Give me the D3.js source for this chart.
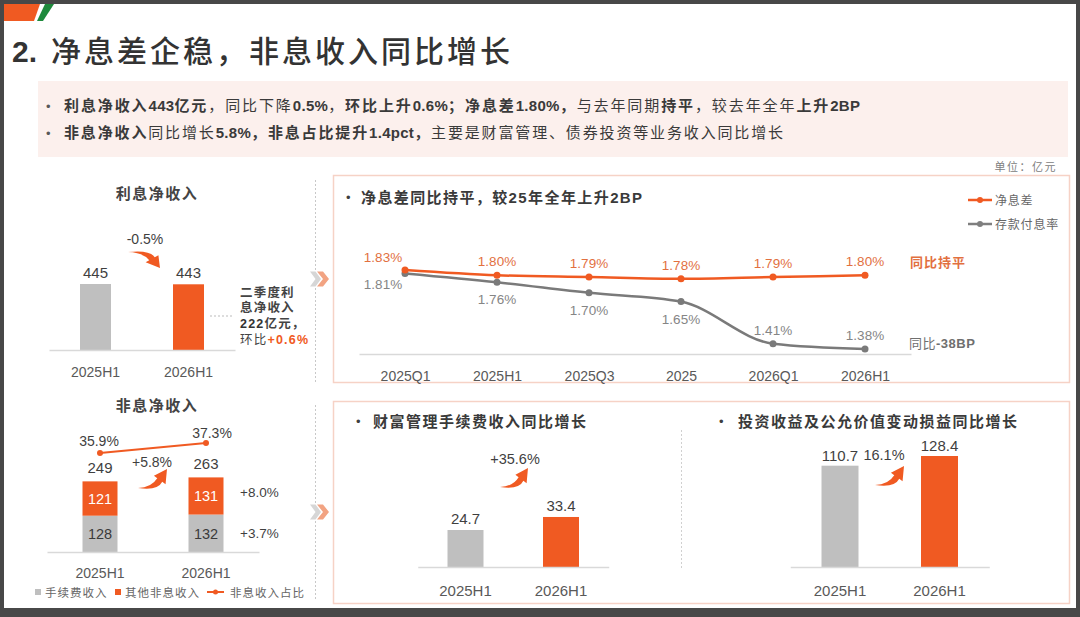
<!DOCTYPE html>
<html><head><meta charset="utf-8">
<script src="https://cdn.jsdelivr.net/npm/d3@7"></script>
<style>body{margin:0;background:#484848;} svg{display:block}</style>
</head><body><svg id="c" width="1080" height="617"></svg>
<script>
// ---------- DATA ----------
const halfCategories = ["2025H1", "2026H1"];
const niiValues = [445, 443];
const niiChangeLabel = "-0.5%";

const feeValues = [128, 132];
const otherValues = [121, 131];
const nonIntTotals = [249, 263];
const nonIntRatio = [35.9, 37.3];
const nonIntChangeLabel = "+5.8%";
const otherGrowthLabel = "+8.0%";
const feeGrowthLabel = "+3.7%";

const nimCategories = ["2025Q1", "2025H1", "2025Q3", "2025", "2026Q1", "2026H1"];
const nimValues = [1.83, 1.80, 1.79, 1.78, 1.79, 1.80];
const depositRateValues = [1.81, 1.76, 1.70, 1.65, 1.41, 1.38];

const wealthValues = [24.7, 33.4];
const wealthChangeLabel = "+35.6%";
const investValues = [110.7, 128.4];
const investChangeLabel = "16.1%";

// ---------- STYLE ----------
const FONT = "'Liberation Sans','Noto Sans CJK SC',sans-serif";
const ORANGE = "#f05a22", ORANGE_TXT = "#e2703f", GRAYBAR = "#bfbfbf", DARK = "#3f3f3f", MID = "#595959", LGRAY = "#808080";
const BOXSTROKE = "#f6d2c6";

const svg = d3.select("#c");

function rich(g, x, y, parts, o) {
  const t = g.append("text").attr("x", x).attr("y", y)
    .attr("font-family", FONT).attr("font-size", o.size)
    .attr("fill", o.fill || DARK).attr("letter-spacing", o.ls || 0)
    .attr("text-anchor", o.anchor || "start")
    .attr("font-weight", o.weight || 400);
  parts.forEach(p => {
    const s = t.append("tspan").text(p[0]);
    if (p[1]) s.attr("font-weight", p[1]);
    if (p[2]) s.attr("fill", p[2]);
    if (p[3] !== undefined) s.attr("letter-spacing", p[3]);
  });
  return t;
}
function label(g, x, y, txt, o) { return rich(g, x, y, [[txt]], Object.assign({anchor: "middle"}, o)); }

const SWOOSH = "M0,19 Q13,18.5 18.6,9.2 L15.4,6.8 L28,0 L26.6,15.2 L23.4,12.8 Q19,22 0,19 Z";
function swoosh(g, x0, y0, x1, y1, down) {
  const sx = (x1 - x0) / 28, sy = (y1 - y0) / 19;
  const tr = down ? `translate(${x0},${y1}) scale(${sx},${-sy})` : `translate(${x0},${y0}) scale(${sx},${sy})`;
  g.append("path").attr("d", SWOOSH).attr("transform", tr).attr("fill", ORANGE);
}
function chevrons(g, x, y) {
  const pts = (w, h) => [[0,0],[w*0.5,0],[w,h/2],[w*0.5,h],[0,h],[w*0.5,h/2]].map(p => p.join(",")).join(" ");
  g.append("polygon").attr("points", pts(11, 15)).attr("transform", `translate(${x - 10},${y - 7.5})`).attr("fill", "#d6d6d6");
  g.append("polygon").attr("points", pts(12, 15)).attr("transform", `translate(${x - 3},${y - 7.5})`).attr("fill", "#f2a382");
}
function bandFor(cats, c0, c1, w) {
  const step = c1 - c0, pi = 1 - w / step;
  return d3.scaleBand().domain(cats).range([c0 - step / 2, c1 + step / 2]).paddingInner(pi).paddingOuter(pi / 2);
}
function baseAxis(g, x, y, labelDy) {
  const ax = g.append("g").attr("transform", `translate(0,${y})`)
    .call(d3.axisBottom(x).tickSize(0).tickSizeOuter(0).tickPadding(labelDy));
  ax.select(".domain").attr("stroke", "#d9d9d9").attr("stroke-width", 1.5);
  ax.selectAll("text").attr("font-family", FONT).attr("font-size", 14).attr("fill", MID);
  return ax;
}

// ---------- SLIDE FRAME ----------
svg.append("rect").attr("x", 4).attr("y", 4).attr("width", 1072).attr("height", 604).attr("fill", "#ffffff");
svg.append("polygon").attr("points", "4,4 40,4 34,21 4,21").attr("fill", ORANGE);
svg.append("polygon").attr("points", "45,4 54,4 43,21 37,21").attr("fill", "#1e8a3c");

// title
rich(svg, 12, 62, [["2.", 700]], {size: 30, fill: "#333"});
rich(svg, 51, 62, [["净息差企稳，非息收入同比增长"]], {size: 30, fill: "#333", ls: 3, weight: 500});

// summary box
svg.append("rect").attr("x", 38).attr("y", 81).attr("width", 1030).attr("height", 76).attr("fill", "#fcf0ed");
const sum = svg.append("g");
rich(sum, 46, 111, [["•"]], {size: 13, fill: MID});
rich(sum, 46, 138, [["•"]], {size: 13, fill: MID});
rich(sum, 64, 111, [
  ["利息净收入", 700], ["443", 700, null, 0.3], ["亿元", 700], ["，同比下降"], ["0.5%", 700, null, 0.3], ["，"], ["环比上升", 700], ["0.6%", 700, null, 0.3], ["；净息差", 700], ["1.80%", 700, null, 0.3], ["，", 700],
  ["与去年同期"], ["持平", 700], ["，较去年全年"], ["上升", 700], ["2BP", 700, null, 0.3]
], {size: 15, fill: "#3a3a3a", ls: 1.9});
rich(sum, 64, 138, [
  ["非息净收入", 700], ["同比增长"], ["5.8%", 700, null, 0.3], ["，非息占比提升", 700], ["1.4pct", 700, null, 0.3], ["，", 700], ["主要是财富管理、债券投资等业务收入同比增长"]
], {size: 15, fill: "#3a3a3a", ls: 1.85});
rich(svg, 1057, 171, [["单位：亿元"]], {size: 11, fill: LGRAY, ls: 1.5, anchor: "end"});

// separators & chevrons
[[180, 382], [405, 600]].forEach(([a, b]) =>
  svg.append("line").attr("x1", 315.5).attr("x2", 315.5).attr("y1", a).attr("y2", b)
    .attr("stroke", "#c8c8c8").attr("stroke-dasharray", "2,2"));
chevrons(svg, 320, 279);
chevrons(svg, 320, 512);

// ---------- TOP-LEFT: 利息净收入 ----------
{
  const g = svg.append("g");
  rich(g, 157, 199, [["利息净收入"]], {size: 15, weight: 700, ls: 1.5, anchor: "middle", fill: "#444"});
  const x = bandFor(halfCategories, 95.5, 188.5, 31);
  const y = d3.scaleLinear().domain([0, 445]).range([350, 284]);
  g.selectAll("rect.b").data(niiValues).join("rect")
    .attr("x", (d, i) => x(halfCategories[i])).attr("width", x.bandwidth())
    .attr("y", d => y(d)).attr("height", d => y(0) - y(d))
    .attr("fill", (d, i) => i ? ORANGE : GRAYBAR);
  niiValues.forEach((v, i) => label(g, x(halfCategories[i]) + x.bandwidth() / 2, y(v) - 6, String(v), {size: 15, fill: DARK}));
  baseAxis(g, x, 350, 17);
  label(g, 145, 244, niiChangeLabel, {size: 14, fill: DARK});
  swoosh(g, 128, 252, 160, 268, true);
  g.append("line").attr("x1", 210).attr("x2", 232).attr("y1", 316).attr("y2", 316).attr("stroke", "#bbb").attr("stroke-dasharray", "2,2");
  const o = {size: 12.5, fill: "#444", ls: 1.2};
  rich(g, 240, 297, [["二季度利", 700]], o);
  rich(g, 240, 312, [["息净收入", 700]], o);
  rich(g, 240, 328, [["222", 700, "#333"], ["亿元，", 700]], o);
  rich(g, 240, 344, [["环比", 400], ["+0.6%", 700, ORANGE]], o);
}

// ---------- BOTTOM-LEFT: 非息净收入 ----------
{
  const g = svg.append("g");
  rich(g, 157, 411, [["非息净收入"]], {size: 15, weight: 700, ls: 1.5, anchor: "middle", fill: "#444"});
  const x = bandFor(halfCategories, 100, 206, 35);
  const y = d3.scaleLinear().domain([0, 263]).range([552, 477.4]);
  const stack = halfCategories.map((c, i) => ({c, fee: feeValues[i], other: otherValues[i]}));
  const series = d3.stack().keys(["fee", "other"])(stack);
  g.selectAll("g.s").data(series).join("g").attr("fill", d => d.key === "fee" ? GRAYBAR : ORANGE)
    .selectAll("rect").data(d => d).join("rect")
    .attr("x", d => x(d.data.c)).attr("width", x.bandwidth())
    .attr("y", d => y(d[1])).attr("height", d => y(d[0]) - y(d[1]));
  series.forEach(s => s.forEach(d => {
    label(g, x(d.data.c) + x.bandwidth() / 2, (y(d[0]) + y(d[1])) / 2 + 5.5, String(d[1] - d[0]),
      {size: 14.5, fill: s.key === "fee" ? "#3a3a3a" : "#ffffff"});
  }));
  nonIntTotals.forEach((v, i) => label(g, x(halfCategories[i]) + x.bandwidth() / 2, y(v) - 8, String(v), {size: 15, fill: DARK}));
  baseAxis(g, x, 552, 16);
  // ratio line
  const yr = d3.scaleLinear().domain([30, 40]).range([495.1, 423.7]);
  const cx = i => x(halfCategories[i]) + x.bandwidth() / 2;
  g.append("path").datum(nonIntRatio).attr("fill", "none").attr("stroke", ORANGE).attr("stroke-width", 2)
    .attr("d", d3.line().x((d, i) => cx(i)).y(d => yr(d)));
  g.selectAll("circle.r").data(nonIntRatio).join("circle").attr("cx", (d, i) => cx(i)).attr("cy", d => yr(d)).attr("r", 3).attr("fill", ORANGE);
  label(g, cx(0) - 1, yr(nonIntRatio[0]) - 7, nonIntRatio[0].toFixed(1) + "%", {size: 14, fill: DARK});
  label(g, cx(1) + 6, yr(nonIntRatio[1]) - 5, nonIntRatio[1].toFixed(1) + "%", {size: 14, fill: DARK});
  label(g, 152, 467, nonIntChangeLabel, {size: 14, fill: DARK});
  swoosh(g, 138, 469, 167, 488, false);
  rich(g, 240, 497, [[otherGrowthLabel]], {size: 13.5, fill: DARK});
  rich(g, 240, 538, [[feeGrowthLabel]], {size: 13.5, fill: DARK});
  // legend
  const lo = {size: 11.5, fill: "#666", ls: 1};
  g.append("rect").attr("x", 35).attr("y", 589).attr("width", 6).attr("height", 6).attr("fill", GRAYBAR);
  rich(g, 45, 597, [["手续费收入"]], lo);
  g.append("rect").attr("x", 115).attr("y", 589).attr("width", 6).attr("height", 6).attr("fill", ORANGE);
  rich(g, 125, 597, [["其他非息收入"]], lo);
  g.append("line").attr("x1", 207).attr("x2", 224).attr("y1", 592).attr("y2", 592).attr("stroke", ORANGE).attr("stroke-width", 2);
  g.append("circle").attr("cx", 215.5).attr("cy", 592).attr("r", 2.5).attr("fill", ORANGE);
  rich(g, 230, 597, [["非息收入占比"]], lo);
}

// ---------- TOP-RIGHT: NIM line chart ----------
{
  const g = svg.append("g");
  g.append("rect").attr("x", 333.5).attr("y", 175.5).attr("width", 736).attr("height", 207).attr("fill", "#fff")
    .attr("stroke", BOXSTROKE).attr("stroke-width", 1.5);
  rich(g, 346, 202, [["•"]], {size: 13, fill: DARK});
  rich(g, 361, 203, [["净息差同比持平，较"], ["25"], ["年全年上升"], ["2BP"]], {size: 15, weight: 700, ls: 1.4, fill: "#3a3a3a"});
  // legend
  const lg = [["净息差", ORANGE, 200], ["存款付息率", "#7f7f7f", 224]];
  lg.forEach(([t, c, yy]) => {
    g.append("line").attr("x1", 968).attr("x2", 992).attr("y1", yy).attr("y2", yy).attr("stroke", c).attr("stroke-width", 2.5);
    g.append("circle").attr("cx", 980).attr("cy", yy).attr("r", 3).attr("fill", c);
    rich(g, 995, yy + 4.5, [[t]], {size: 12, fill: "#666", ls: 0.8});
  });
  const x = d3.scalePoint().domain(nimCategories).range([359, 911]).padding(0.5);
  const y = d3.scaleLinear().domain([1.30, 2.00]).range([363.05, 240.13]);
  baseAxis(g, x, 354, 17);
  const line = d3.line().x((d, i) => x(nimCategories[i])).y(d => y(d)).curve(d3.curveMonotoneX);
  g.append("path").datum(depositRateValues).attr("fill", "none").attr("stroke", "#7a7a7a").attr("stroke-width", 2.5).attr("d", line);
  g.append("path").datum(nimValues).attr("fill", "none").attr("stroke", ORANGE).attr("stroke-width", 2.5).attr("d", line);
  g.selectAll("circle.d").data(depositRateValues).join("circle").attr("cx", (d, i) => x(nimCategories[i])).attr("cy", d => y(d)).attr("r", 3.5).attr("fill", "#7a7a7a");
  g.selectAll("circle.n").data(nimValues).join("circle").attr("cx", (d, i) => x(nimCategories[i])).attr("cy", d => y(d)).attr("r", 3.5).attr("fill", ORANGE);
  nimValues.forEach((v, i) => {
    const dx = i === 0 ? -22 : 0;
    label(g, x(nimCategories[i]) + dx, y(v) - (i === 0 ? 8 : 9), v.toFixed(2) + "%", {size: 13.5, fill: ORANGE_TXT});
  });
  depositRateValues.forEach((v, i) => {
    let dx = 0, dy = 22;
    if (i === 0) { dx = -22; dy = 16; }
    if (i >= 4) { dy = -9; }
    label(g, x(nimCategories[i]) + dx, y(v) + dy, v.toFixed(2) + "%", {size: 13.5, fill: "#858585"});
  });
  rich(g, 910, 267, [["同比持平"]], {size: 13, weight: 700, fill: ORANGE_TXT, ls: 1});
  rich(g, 909, 348, [["同比", 400], ["-38BP", 700]], {size: 13, fill: "#6f6f6f", ls: 0.5});
}

// ---------- BOTTOM-RIGHT ----------
{
  const g = svg.append("g");
  g.append("rect").attr("x", 333.5).attr("y", 401.5).attr("width", 736).attr("height", 202).attr("fill", "#fff")
    .attr("stroke", BOXSTROKE).attr("stroke-width", 1.5);
  g.append("line").attr("x1", 681.5).attr("x2", 681.5).attr("y1", 430).attr("y2", 568).attr("stroke", "#d0d0d0").attr("stroke-dasharray", "2,2");
  rich(g, 356, 426, [["•"]], {size: 13, fill: DARK});
  rich(g, 373, 427, [["财富管理手续费收入同比增长"]], {size: 15, weight: 700, ls: 1.5, fill: "#3a3a3a"});
  rich(g, 719, 426, [["•"]], {size: 13, fill: DARK});
  rich(g, 738, 427, [["投资收益及公允价值变动损益同比增长"]], {size: 15, weight: 700, ls: 1.5, fill: "#3a3a3a"});

  // wealth management fees
  const x1 = bandFor(halfCategories, 465.5, 561, 36);
  const y1 = d3.scaleLinear().domain([0, 40]).range([567, 507.1]);
  g.selectAll("rect.w").data(wealthValues).join("rect")
    .attr("x", (d, i) => x1(halfCategories[i])).attr("width", x1.bandwidth())
    .attr("y", d => y1(d)).attr("height", d => y1(0) - y1(d)).attr("fill", (d, i) => i ? ORANGE : GRAYBAR);
  wealthValues.forEach((v, i) => label(g, x1(halfCategories[i]) + x1.bandwidth() / 2, y1(v) - 6, v.toFixed(1), {size: 15, fill: DARK}));
  baseAxis(g, x1, 567, 18).selectAll("text").attr("font-size", 15);
  label(g, 515, 464, wealthChangeLabel, {size: 14.5, fill: DARK});
  swoosh(g, 500, 468, 528, 487, false);

  // investment income
  const x2 = bandFor(halfCategories, 840, 939.5, 37);
  const y2 = d3.scaleLinear().domain([-74.3, 128.4]).range([567, 456]);
  g.selectAll("rect.v").data(investValues).join("rect")
    .attr("x", (d, i) => x2(halfCategories[i])).attr("width", x2.bandwidth())
    .attr("y", d => y2(d)).attr("height", d => y2(-74.3) - y2(d)).attr("fill", (d, i) => i ? ORANGE : GRAYBAR);
  investValues.forEach((v, i) => label(g, x2(halfCategories[i]) + x2.bandwidth() / 2, y2(v) - 5, v.toFixed(1), {size: 15, fill: DARK}));
  baseAxis(g, x2, 567, 18).selectAll("text").attr("font-size", 15);
  label(g, 884, 460, investChangeLabel, {size: 14.5, fill: DARK});
  swoosh(g, 875, 466, 904, 485, false);
}
</script></body></html>
